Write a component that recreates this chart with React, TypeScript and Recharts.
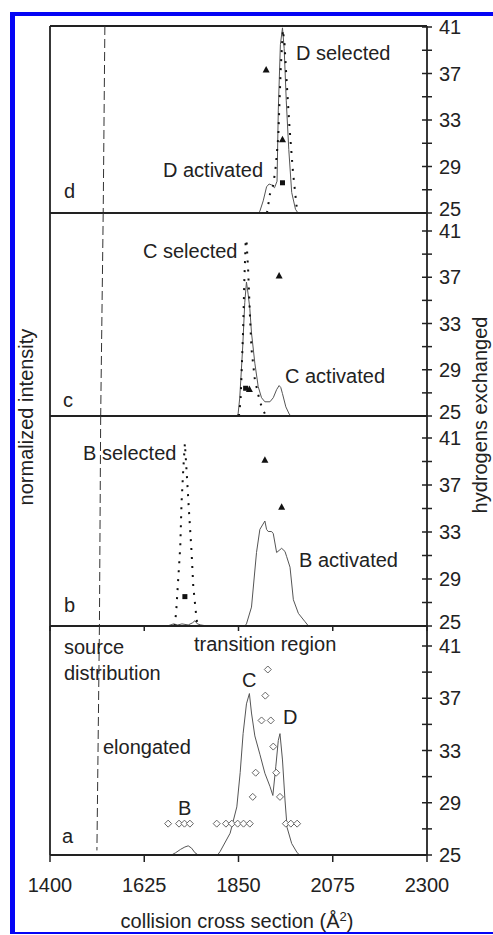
import React from 'react'
import { ComposedChart, Line, Scatter, XAxis, YAxis, ReferenceLine } from 'recharts'

const CCS_TICKS = [1400, 1625, 1850, 2075, 2300]
const HX_TICKS = [25, 27, 29, 31, 33, 35, 37, 39, 41]

// panel d
const D_ACTIVATED = [
  { x: 1898, y: 0 }, { x: 1901, y: 0.01 }, { x: 1909, y: 0.065 }, { x: 1917, y: 0.14 },
  { x: 1923, y: 0.155 }, { x: 1929, y: 0.15 }, { x: 1936, y: 0.135 }, { x: 1942, y: 0.17 },
  { x: 1945, y: 0.55 }, { x: 1950, y: 0.9 }, { x: 1955, y: 0.99 }, { x: 1959, y: 0.88 },
  { x: 1964, y: 0.6 }, { x: 1970, y: 0.34 }, { x: 1977, y: 0.11 }, { x: 1986, y: 0.02 }, { x: 1992, y: 0 },
]
const D_SELECTED = [
  { x: 1918, y: 0 }, { x: 1925, y: 0.1 }, { x: 1933, y: 0.15 }, { x: 1939, y: 0.25 },
  { x: 1945, y: 0.41 }, { x: 1948, y: 0.6 }, { x: 1951, y: 0.78 }, { x: 1956, y: 0.98 },
  { x: 1960, y: 0.9 }, { x: 1965, y: 0.7 }, { x: 1972, y: 0.45 }, { x: 1980, y: 0.22 },
  { x: 1989, y: 0.03 }, { x: 1993, y: 0 },
]
const D_ACT_HX = [{ x: 1916, h: 37.3 }, { x: 1955, h: 31.3 }]
const D_SEL_HX = [{ x: 1955, h: 27.6 }]

// panel c
const C_ACTIVATED = [
  { x: 1845, y: 0 }, { x: 1849, y: 0.01 }, { x: 1853, y: 0.09 }, { x: 1860, y: 0.34 },
  { x: 1865, y: 0.56 }, { x: 1869, y: 0.66 }, { x: 1873, y: 0.6 }, { x: 1877, y: 0.53 },
  { x: 1881, y: 0.41 }, { x: 1889, y: 0.26 }, { x: 1897, y: 0.145 }, { x: 1905, y: 0.09 },
  { x: 1913, y: 0.07 }, { x: 1925, y: 0.07 }, { x: 1933, y: 0.09 }, { x: 1941, y: 0.13 },
  { x: 1947, y: 0.15 }, { x: 1951, y: 0.14 }, { x: 1955, y: 0.11 }, { x: 1963, y: 0.045 },
  { x: 1971, y: 0.01 }, { x: 1975, y: 0 },
]
const C_SELECTED = [
  { x: 1851, y: 0 }, { x: 1855, y: 0.08 }, { x: 1857, y: 0.19 }, { x: 1861, y: 0.42 },
  { x: 1864, y: 0.67 }, { x: 1867, y: 0.85 }, { x: 1869, y: 0.87 }, { x: 1873, y: 0.72 },
  { x: 1877, y: 0.51 }, { x: 1881, y: 0.33 }, { x: 1889, y: 0.18 }, { x: 1901, y: 0.07 },
  { x: 1911, y: 0.02 }, { x: 1915, y: 0 },
]
const C_ACT_HX = [{ x: 1876, h: 27.3 }, { x: 1947, h: 37.1 }]
const C_SEL_HX = [{ x: 1867, h: 27.4 }]

// panel b
const B_ACTIVATED = [
  { x: 1680, y: 0 }, { x: 1695, y: 0.01 }, { x: 1705, y: 0.005 }, { x: 1715, y: 0.01 },
  { x: 1730, y: 0.005 }, { x: 1740, y: 0.015 }, { x: 1746, y: 0.025 }, { x: 1752, y: 0.01 },
  { x: 1760, y: 0.005 }, { x: 1775, y: 0 }, { x: 1865, y: 0 }, { x: 1869, y: 0.01 },
  { x: 1881, y: 0.09 }, { x: 1893, y: 0.35 }, { x: 1901, y: 0.46 }, { x: 1913, y: 0.5 },
  { x: 1917, y: 0.46 }, { x: 1921, y: 0.45 }, { x: 1929, y: 0.45 }, { x: 1933, y: 0.44 },
  { x: 1941, y: 0.35 }, { x: 1947, y: 0.36 }, { x: 1953, y: 0.37 }, { x: 1961, y: 0.355 },
  { x: 1965, y: 0.33 }, { x: 1973, y: 0.28 }, { x: 1981, y: 0.125 }, { x: 1993, y: 0.06 },
  { x: 2009, y: 0.02 }, { x: 2017, y: 0 },
]
const B_SELECTED = [
  { x: 1697, y: 0 }, { x: 1701, y: 0.06 }, { x: 1706, y: 0.22 }, { x: 1711, y: 0.38 },
  { x: 1714, y: 0.585 }, { x: 1718, y: 0.74 }, { x: 1722, y: 0.87 }, { x: 1726, y: 0.74 },
  { x: 1732, y: 0.54 }, { x: 1738, y: 0.35 }, { x: 1742, y: 0.19 }, { x: 1748, y: 0.07 },
  { x: 1752, y: 0 },
]
const B_ACT_HX = [{ x: 1913, h: 39.1 }, { x: 1953, h: 35.1 }]
const B_SEL_HX = [{ x: 1722, h: 27.5 }]

// panel a
const A_SOURCE = [
  { x: 1690, y: 0 }, { x: 1700, y: 0.01 }, { x: 1712, y: 0.025 }, { x: 1722, y: 0.035 },
  { x: 1730, y: 0.04 }, { x: 1738, y: 0.03 }, { x: 1746, y: 0.01 }, { x: 1754, y: 0 },
  { x: 1800, y: 0 }, { x: 1806, y: 0.015 }, { x: 1830, y: 0.095 }, { x: 1846, y: 0.21 },
  { x: 1854, y: 0.36 }, { x: 1861, y: 0.53 }, { x: 1869, y: 0.66 }, { x: 1876, y: 0.705 },
  { x: 1881, y: 0.62 }, { x: 1889, y: 0.52 }, { x: 1901, y: 0.44 }, { x: 1913, y: 0.357 },
  { x: 1925, y: 0.3 }, { x: 1932, y: 0.26 }, { x: 1939, y: 0.385 }, { x: 1945, y: 0.5 },
  { x: 1949, y: 0.53 }, { x: 1955, y: 0.415 }, { x: 1961, y: 0.24 }, { x: 1966, y: 0.12 },
  { x: 1977, y: 0.05 }, { x: 1990, y: 0.01 }, { x: 1996, y: 0 },
]
const A_HX = [
  { x: 1682, h: 27.4 }, { x: 1708, h: 27.4 }, { x: 1721, h: 27.4 }, { x: 1734, h: 27.4 },
  { x: 1798, h: 27.4 }, { x: 1820, h: 27.4 }, { x: 1834, h: 27.4 }, { x: 1848, h: 27.4 },
  { x: 1862, h: 27.4 }, { x: 1877, h: 27.4 }, { x: 1963, h: 27.4 }, { x: 1975, h: 27.4 },
  { x: 1990, h: 27.4 },
  { x: 1884, h: 29.45 }, { x: 1949, h: 29.45 },
  { x: 1891, h: 31.3 }, { x: 1940, h: 31.3 },
  { x: 1933, h: 33.3 },
  { x: 1905, h: 35.3 }, { x: 1927, h: 35.3 },
  { x: 1914, h: 37.2 },
  { x: 1920, h: 39.2 },
]

// dashed "source distribution" boundary, [top, bottom] of each panel
const SOURCE_EDGE = [[1531, 1527], [1527, 1521], [1521, 1518], [1518, 1512]]

const FONT = '"Liberation Sans", Arial, Helvetica, sans-serif'
const INK = '#222'
const M = 14

const Tri = (p: any) => (
  <polygon points={`${p.cx},${p.cy - 4} ${p.cx - 3.5},${p.cy + 2.5} ${p.cx + 3.5},${p.cy + 2.5}`} fill="#111" />
)
const Sq = (p: any) => <rect x={p.cx - 2.5} y={p.cy - 2.5} width={5} height={5} fill="#111" />
const Dia = (p: any) => (
  <polygon
    points={`${p.cx},${p.cy - 3.5} ${p.cx + 3.5},${p.cy} ${p.cx},${p.cy + 3.5} ${p.cx - 3.5},${p.cy}`}
    fill="#fff"
    stroke="#666"
    strokeWidth={1}
  />
)

const hxTick = (shift: number) => (props: any) => {
  const { x, y, payload } = props
  const v = payload.value
  const major = (v - 25) % 4 === 0
  return (
    <g>
      <line x1={x - 5} x2={x + 5} y1={y} y2={y} stroke={INK} strokeWidth={1.5} />
      {major && (
        <text x={x + 12} y={y + (v === 25 ? shift : 0)} dy="0.36em" fontSize={20} fill={INK} fontFamily={FONT}>
          {v}
        </text>
      )}
    </g>
  )
}

type PanelProps = {
  top: number
  h: number
  pad: number
  edge: number[]
  solid: { x: number; y: number }[]
  dotted?: { x: number; y: number }[]
  act?: { x: number; h: number }[]
  sel?: { x: number; h: number }[]
  dia?: { x: number; h: number }[]
  first?: boolean
  ticks?: boolean
  last?: boolean
}

function Panel({ top, h, pad, edge, solid, dotted, act, sel, dia, first, ticks, last }: PanelProps) {
  const axisH = last ? 80 : 1
  const height = M + h + axisH + (last ? 0 : M - 1)
  return (
    <div style={{ position: 'absolute', left: 0, top: top - M }}>
      <ComposedChart width={493} height={height} margin={{ top: M, right: 0, bottom: last ? 0 : M - 1, left: 49 }}>
        <XAxis
          dataKey="x"
          type="number"
          domain={[1400, 2300]}
          ticks={CCS_TICKS}
          allowDataOverflow
          height={axisH}
          axisLine={{ stroke: INK, strokeWidth: 1.8 }}
          tickLine={last || ticks ? { stroke: INK, strokeWidth: 1.5 } : false}
          tickSize={last ? 7 : 5}
          tickMargin={16}
          tickFormatter={last ? (v: number) => String(v) : () => ''}
          tick={{ fontSize: 20, fill: INK, fontFamily: FONT }}
        />
        <YAxis
          yAxisId="int"
          dataKey="y"
          type="number"
          domain={[0, 1]}
          allowDataOverflow
          width={1}
          ticks={[0, 1]}
          tick={false}
          tickLine={false}
          axisLine={{ stroke: INK, strokeWidth: 1.8 }}
        />
        <YAxis
          yAxisId="hx"
          dataKey="h"
          orientation="right"
          type="number"
          domain={[25, 41]}
          allowDataOverflow
          ticks={HX_TICKS}
          interval={0}
          width={66}
          padding={{ top: pad, bottom: 0 }}
          tickSize={0}
          tickMargin={0}
          tickLine={false}
          tick={hxTick(last ? 0 : -4)}
          axisLine={{ stroke: INK, strokeWidth: 1.8 }}
        />
        {first && <ReferenceLine yAxisId="int" y={1} stroke={INK} strokeWidth={1.8} />}
        <ReferenceLine
          yAxisId="int"
          segment={[{ x: edge[0], y: 1 }, { x: edge[1], y: last ? 0.02 : 0 }]}
          stroke="#333"
          strokeWidth={1}
          strokeDasharray="9 4"
        />
        <Line
          yAxisId="int"
          data={solid}
          dataKey="y"
          type="linear"
          stroke="#555"
          strokeWidth={1}
          dot={false}
          isAnimationActive={false}
        />
        {dotted && (
          <Line
            yAxisId="int"
            data={dotted}
            dataKey="y"
            type="linear"
            stroke="#111"
            strokeWidth={2}
            strokeDasharray="2 7"
            dot={false}
            isAnimationActive={false}
          />
        )}
        {act && <Scatter yAxisId="hx" data={act} shape={Tri} isAnimationActive={false} />}
        {sel && <Scatter yAxisId="hx" data={sel} shape={Sq} isAnimationActive={false} />}
        {dia && <Scatter yAxisId="hx" data={dia} shape={Dia} isAnimationActive={false} />}
      </ComposedChart>
    </div>
  )
}

const LABELS = [
  { t: 'D selected', x: 296, y: 60 },
  { t: 'D activated', x: 163, y: 177 },
  { t: 'd', x: 64, y: 198 },
  { t: 'C selected', x: 143, y: 258 },
  { t: 'C activated', x: 285, y: 383 },
  { t: 'c', x: 63, y: 407 },
  { t: 'B selected', x: 83, y: 460 },
  { t: 'B activated', x: 299, y: 567 },
  { t: 'b', x: 64, y: 612 },
  { t: 'source', x: 64, y: 654 },
  { t: 'distribution', x: 64, y: 680 },
  { t: 'transition region', x: 194, y: 651 },
  { t: 'elongated', x: 103, y: 754 },
  { t: 'C', x: 242, y: 687 },
  { t: 'D', x: 283, y: 724 },
  { t: 'B', x: 178, y: 815 },
  { t: 'a', x: 62, y: 843 },
]

export default function App() {
  return (
    <div
      style={{
        position: 'absolute',
        left: 0,
        top: 0,
        width: 493,
        height: 935,
        overflow: 'hidden',
        background: '#fff',
        fontFamily: FONT,
      }}
    >
      <div
        style={{
          position: 'absolute',
          left: 10,
          top: 12,
          width: 700,
          height: 922,
          boxSizing: 'border-box',
          borderLeft: '5px solid #0505f5',
          borderTop: '4px solid #0505f5',
          borderBottom: '2px solid #0505f5',
        }}
      />
      <Panel top={26} h={187} pad={1} edge={SOURCE_EDGE[0]} solid={D_ACTIVATED} dotted={D_SELECTED} act={D_ACT_HX} sel={D_SEL_HX} first />
      <Panel top={213} h={203} pad={18} edge={SOURCE_EDGE[1]} solid={C_ACTIVATED} dotted={C_SELECTED} act={C_ACT_HX} sel={C_SEL_HX} />
      <Panel top={416} h={210} pad={22} edge={SOURCE_EDGE[2]} solid={B_ACTIVATED} dotted={B_SELECTED} act={B_ACT_HX} sel={B_SEL_HX} ticks />
      <Panel top={626} h={229} pad={20} edge={SOURCE_EDGE[3]} solid={A_SOURCE} dia={A_HX} last />
      <svg width={493} height={935} style={{ position: 'absolute', left: 0, top: 0, pointerEvents: 'none' }}>
        <g fontFamily={FONT} fontSize={20} fill={INK}>
          {LABELS.map((l) => (
            <text key={l.t + l.y} x={l.x} y={l.y}>
              {l.t}
            </text>
          ))}
          <text x={33} y={417} textAnchor="middle" transform="rotate(-90 33 417)">
            normalized intensity
          </text>
          <text x={487} y={415} textAnchor="middle" transform="rotate(-90 487 415)">
            hydrogens exchanged
          </text>
          <text x={237} y={928} textAnchor="middle">
            collision cross section (Å<tspan dy={-7} fontSize={13}>2</tspan>
            <tspan dy={7}>)</tspan>
          </text>
        </g>
      </svg>
    </div>
  )
}
